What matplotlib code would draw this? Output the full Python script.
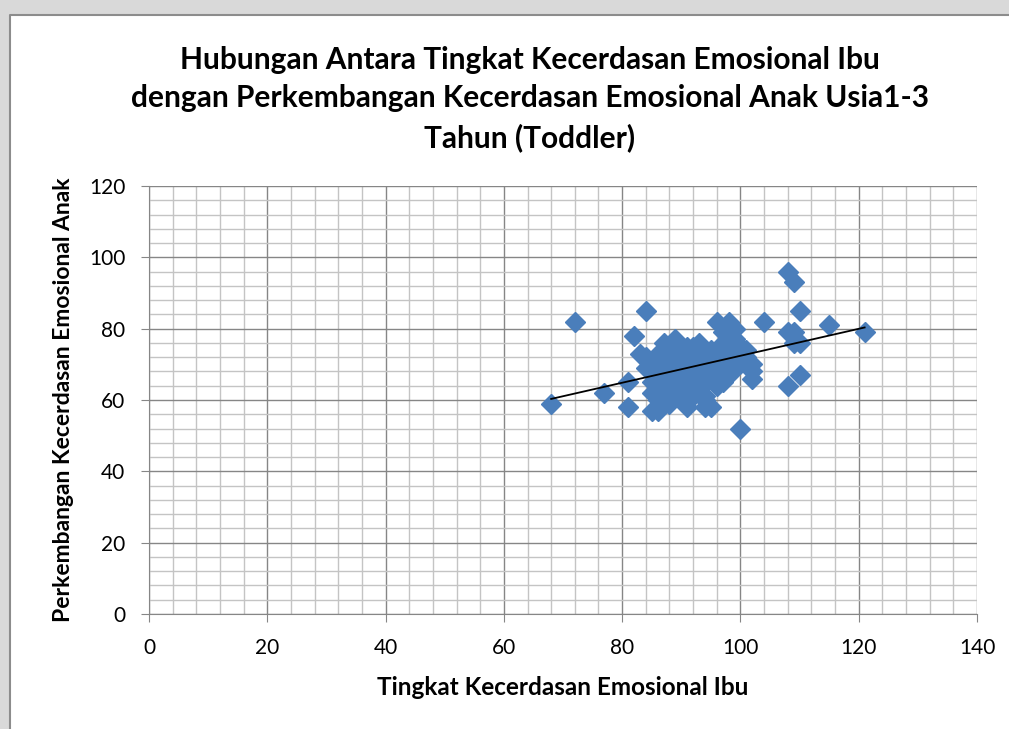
import matplotlib.pyplot as plt
import numpy as np
from matplotlib.patches import Rectangle
from matplotlib.lines import Line2D

# skor kecerdasan emosional ibu (x) dan anak (y)
ibu = [68, 72, 77, 81, 81, 82, 84, 83, 96, 98, 104, 108, 109, 110, 115, 121,
       108, 109, 109, 110, 110, 108, 100, 91, 94, 95, 85, 86, 102, 102, 98,
       87, 89, 92, 96, 98, 99, 100, 101, 84, 85, 85, 85, 86, 88, 90, 93, 94,
       86, 87, 88, 88, 89, 89, 90, 90, 90, 91, 91, 92, 92, 93, 93, 94, 94,
       95, 95, 96, 96, 97, 97, 98, 98, 99, 99, 100, 100, 86, 87, 88, 89, 91,
       92, 86, 87, 96, 97, 101, 99, 97, 85, 84, 91, 93, 95, 88, 90,
       97, 98, 99, 101, 102, 94]
anak = [59, 82, 62, 58, 65, 78, 85, 73, 82, 82, 82, 96, 93, 85, 81, 79,
        79, 79, 76, 76, 67, 64, 52, 58, 58, 58, 57, 57, 66, 70, 67,
        76, 77, 75, 74, 79, 77, 75, 72, 69, 71, 65, 62, 60, 61, 62, 63, 61,
        73, 70, 74, 68, 72, 66, 70, 74, 65, 68, 72, 70, 66, 73, 68, 70, 66,
        72, 68, 70, 66, 72, 68, 70, 74, 72, 69, 73, 70, 66, 64, 64, 62, 64,
        61, 69, 62, 64, 65, 74, 80, 76, 68, 72, 75, 76, 74, 59, 60,
        79, 77, 75, 70, 68, 60]

judul = ("Hubungan Antara Tingkat Kecerdasan Emosional Ibu\n"
         "dengan Perkembangan Kecerdasan Emosional Anak Usia1-3\n"
         "Tahun (Toddler)")

plt.rcParams['font.family'] = ['Lato', 'DejaVu Sans']

fig = plt.figure(figsize=(10.09, 7.29), dpi=100, facecolor='#d9d9d9')
# area grafik putih dengan garis tepi abu-abu
fig.patches.append(Rectangle((10/1009, 0), 1, 1 - 15/729, transform=fig.transFigure,
                             facecolor='white', edgecolor='none', zorder=-5))
fig.lines.append(Line2D([10/1009, 10/1009, 1], [0, 1 - 15/729, 1 - 15/729],
                        transform=fig.transFigure, color='#8c8c8c', lw=1.5, zorder=-4))

ax = fig.add_axes([149/1009, 1 - 614/729, 828/1009, 428/729])
ax.set_xlim(0, 140)
ax.set_ylim(0, 120)
ax.set_xticks(np.arange(0, 141, 20))
ax.set_yticks(np.arange(0, 121, 20))
ax.set_xticks(np.arange(0, 141, 4), minor=True)
ax.set_yticks(np.arange(0, 121, 4), minor=True)
ax.grid(which='major', color='#868686', lw=1.0)
ax.grid(which='minor', color='#c4c4c4', lw=1.0)
ax.set_axisbelow(True)
ax.tick_params(which='major', labelsize=15, length=6, color='#868686')
ax.tick_params(axis='y', which='major', pad=11)
ax.tick_params(axis='x', which='major', pad=11)
ax.tick_params(which='minor', length=0)
for s in ['top', 'right']:
    ax.spines[s].set_visible(False)
for s in ['left', 'bottom']:
    ax.spines[s].set_color('#868686')

ax.plot(ibu, anak, linestyle='none', marker='D', ms=10, color='#4a7ebb',
        mec='#4a7ebb', zorder=3)

# garis tren linear
m, c = np.polyfit(ibu, anak, 1)
xt = np.array([min(ibu), max(ibu)])
ax.plot(xt, m * xt + c, color='black', lw=1.3, zorder=4)

ax.set_xlabel('Tingkat Kecerdasan Emosional Ibu', fontsize=17.5, fontweight='bold', labelpad=13)
ax.set_ylabel('Perkembangan Kecerdasan Emosional Anak', fontsize=16.5, fontweight='bold', labelpad=11)
fig.text(530/1009, 1 - 99/729, judul, ha='center', va='center', fontsize=21.5,
         fontweight='bold', linespacing=1.45)

fig.savefig('out.png', dpi=100, facecolor=fig.get_facecolor())
